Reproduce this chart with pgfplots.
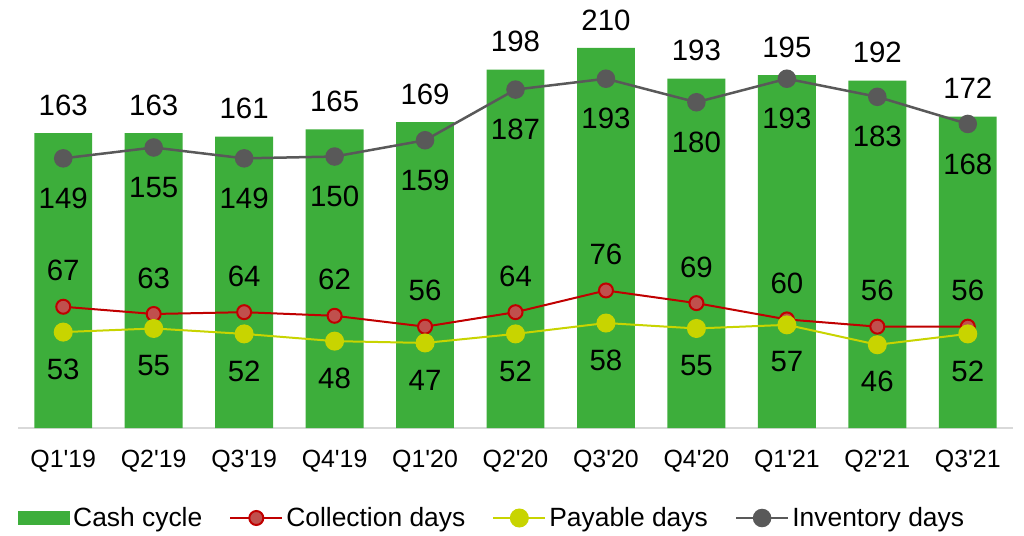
\documentclass[border=0pt]{standalone}
\usepackage{pgfplots}
\pgfplotsset{compat=1.18}
\usepackage{fontspec}
\setmainfont{Liberation Sans}
\definecolor{cashgreen}{RGB}{61,174,59}
\definecolor{colred}{RGB}{192,0,0}
\definecolor{colredfill}{RGB}{192,80,77}
\definecolor{payyellow}{RGB}{200,212,0}
\definecolor{invgray}{RGB}{89,89,89}
\newcommand{\q}{\textquotesingle}
\pgfplotsset{
  my line legend/.style={legend image code/.code={\draw[mark repeat=2,mark phase=2,##1] plot coordinates {(0bp,0bp) (26bp,0bp) (52bp,0bp)};}},
  my bar legend/.style={legend image code/.code={\fill[cashgreen] (0bp,-7bp) rectangle (52bp,7bp);}},
}
\begin{document}
\begin{tikzpicture}
\begin{axis}[
  scale only axis,
  width=995bp, height=428bp,
  xmin=-0.5, xmax=10.5,
  ymin=0, ymax=236.5,
  clip=false,
  axis y line=none,
  axis x line*=bottom,
  x axis line style={draw=black!15, line width=1.5bp, -},
  xtick={0,...,10},
  xticklabels={Q1\q19,Q2\q19,Q3\q19,Q4\q19,Q1\q20,Q2\q20,Q3\q20,Q4\q20,Q1\q21,Q2\q21,Q3\q21},
  major tick length=0pt,
  xticklabel style={anchor=center, yshift=-33bp, font=\fontsize{25}{25}\selectfont},
  /pgf/number format/assume math mode=true,
  legend columns=-1,
  legend style={draw=none, fill=none, at={(0,0)}, anchor=west, yshift=-90bp, inner sep=0pt,
    font=\fontsize{26.5}{26.5}\selectfont,
    nodes={inner sep=3bp},
    /tikz/every even column/.append style={column sep=24bp}},
]
\addplot[ybar, bar width=0.64, fill=cashgreen, draw=none,
  nodes near coords,
  every node near coord/.append style={anchor=center, yshift=28bp, font=\fontsize{29.5}{29.5}\selectfont, text=black},
  my bar legend]
  coordinates {(0,163) (1,163) (2,161) (3,165) (4,169) (5,198) (6,210) (7,193) (8,195) (9,192) (10,172)};
\addlegendentry{Cash cycle}
\addplot[colred, line width=2bp, mark=*, mark size=7bp, mark options={fill=colredfill, draw=colred, line width=2bp},
  nodes near coords,
  every node near coord/.append style={anchor=center, yshift=36bp, font=\fontsize{29.5}{29.5}\selectfont, text=black},
  my line legend]
  coordinates {(0,67) (1,63) (2,64) (3,62) (4,56) (5,64) (6,76) (7,69) (8,60) (9,56) (10,56)};
\addlegendentry{Collection days}
\addplot[payyellow, line width=2bp, mark=*, mark size=8.5bp, mark options={fill=payyellow, draw=none},
  nodes near coords,
  every node near coord/.append style={anchor=center, yshift=-37bp, font=\fontsize{29.5}{29.5}\selectfont, text=black},
  my line legend]
  coordinates {(0,53) (1,55) (2,52) (3,48) (4,47) (5,52) (6,58) (7,55) (8,57) (9,46) (10,52)};
\addlegendentry{Payable days}
\addplot[invgray, line width=2.5bp, mark=*, mark size=8bp, mark options={fill=invgray, draw=none},
  nodes near coords,
  every node near coord/.append style={anchor=center, yshift=-40bp, font=\fontsize{29.5}{29.5}\selectfont, text=black},
  my line legend]
  coordinates {(0,149) (1,155) (2,149) (3,150) (4,159) (5,187) (6,193) (7,180) (8,193) (9,183) (10,168)};
\addlegendentry{Inventory days}
\end{axis}
\pgfresetboundingbox
\path (-18bp,-108bp) rectangle (1006bp,428bp);
\end{tikzpicture}
\end{document}
